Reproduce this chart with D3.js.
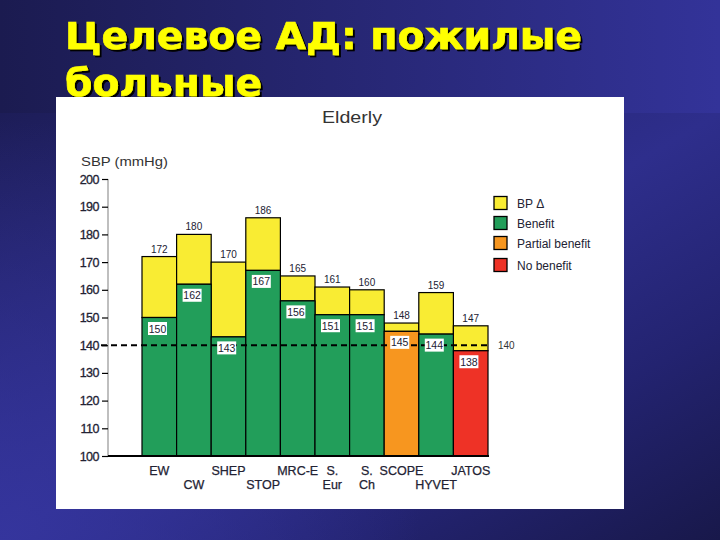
<!DOCTYPE html>
<html><head><meta charset="utf-8">
<script src="https://cdn.jsdelivr.net/npm/d3@7"></script>
<style>html,body{margin:0;padding:0;background:#222266;}svg{display:block;}</style>
</head><body>
<svg id="c" width="720" height="540"></svg>
<script>
// ---- data ----
const trials = ["EW","CW","SHEP","STOP","MRC-E","S. Eur","S. Ch","SCOPE","HYVET","JATOS"];
const labelLine1 = ["EW","","SHEP","","MRC-E","S.","S.","SCOPE","","JATOS"];
const labelLine2 = ["","CW","","STOP","","Eur","Ch","","HYVET",""];
const baselineSBP = [172,180,170,186,165,161,160,148,159,147];
const achievedSBP = [150,162,143,167,156,151,151,145,144,138];
const outcome = ["Benefit","Benefit","Benefit","Benefit","Benefit","Benefit","Benefit","Partial benefit","Benefit","No benefit"];
const yTicks = [100,110,120,130,140,150,160,170,180,190,200];
const legendItems = ["BP Δ","Benefit","Partial benefit","No benefit"];
const targetSBP = 140;

const colors = {"BP Δ":"#f9ec33","Benefit":"#229e5a","Partial benefit":"#f7961f","No benefit":"#ee3226"};

const svg = d3.select("#c");
const defs = svg.append("defs");
const g1 = defs.append("linearGradient").attr("id","topband").attr("x1",0).attr("y1",0).attr("x2",1).attr("y2",0);
g1.append("stop").attr("offset",0).attr("stop-color","#1b1b50");
g1.append("stop").attr("offset",1).attr("stop-color","#333399");
const g2 = defs.append("linearGradient").attr("id","lowband").attr("x1",0).attr("y1",0).attr("x2",1).attr("y2",1);
g2.append("stop").attr("offset",0).attr("stop-color","#1d1d58");
g2.append("stop").attr("offset",0.5).attr("stop-color","#2e2e8c");
g2.append("stop").attr("offset",0.75).attr("stop-color","#232370");
g2.append("stop").attr("offset",1).attr("stop-color","#18184a");
const g3 = defs.append("radialGradient").attr("id","lowleft").attr("gradientUnits","userSpaceOnUse")
  .attr("cx",0).attr("cy",540).attr("r",420);
g3.append("stop").attr("offset",0).attr("stop-color","#3636a0").attr("stop-opacity",0.85);
g3.append("stop").attr("offset",1).attr("stop-color","#3636a0").attr("stop-opacity",0);
const sh = defs.append("filter").attr("id","shadow").attr("x","-5%").attr("y","-20%").attr("width","110%").attr("height","140%");
sh.append("feDropShadow").attr("dx",2).attr("dy",2).attr("stdDeviation",0.4).attr("flood-color","#000").attr("flood-opacity",1);

svg.append("rect").attr("x",0).attr("y",113).attr("width",720).attr("height",427).attr("fill","url(#lowband)");
svg.append("rect").attr("x",0).attr("y",113).attr("width",720).attr("height",427).attr("fill","url(#lowleft)");
svg.append("rect").attr("x",0).attr("y",0).attr("width",720).attr("height",113).attr("fill","url(#topband)");

// title
const titleFont = "'DejaVu Sans', Verdana, sans-serif";
const tg = svg.append("g").attr("filter","url(#shadow)");
[["Целевое АД: пожилые",49,517],["больные",96,197]].forEach(([t,yy,w])=>{
  tg.append("text").attr("x",65).attr("y",yy).attr("textLength",w).attr("lengthAdjust","spacingAndGlyphs")
    .attr("font-family",titleFont).attr("font-weight","bold").attr("font-size",37).attr("fill","#ffff00")
    .attr("stroke","#ffff00").attr("stroke-width",0.6).text(t);
});

// panel
svg.append("rect").attr("x",56).attr("y",97).attr("width",568).attr("height",412).attr("fill","#fff");

const font = "'Liberation Sans', Arial, sans-serif";
const ink = "#222233";

svg.append("text").attr("x",352).attr("y",123).attr("text-anchor","middle").attr("font-family",font)
  .attr("font-size",17).attr("fill","#333").attr("textLength",60).attr("lengthAdjust","spacingAndGlyphs").text("Elderly");
svg.append("text").attr("x",81).attr("y",166).attr("font-family",font).attr("font-size",13).attr("fill","#333")
  .attr("textLength",87).attr("lengthAdjust","spacingAndGlyphs").text("SBP (mmHg)");

const x = d3.scaleBand().domain(trials).range([142,488]).padding(0);
const y = d3.scaleLinear().domain([100,200]).range([456,179]);

// y axis
svg.append("line").attr("x1",108).attr("x2",108).attr("y1",y(200)).attr("y2",y(100)).attr("stroke","#aaa").attr("stroke-width",1.5);
const ya = svg.append("g").attr("transform","translate(108,0)")
  .call(d3.axisLeft(y).tickValues(yTicks).tickSize(6).tickPadding(3));
ya.select(".domain").remove();
ya.selectAll(".tick line").attr("stroke","#000").attr("stroke-width",1.2);
ya.selectAll(".tick text").attr("font-family",font).attr("font-size",12.5).attr("fill",ink)
  .attr("letter-spacing","-0.5px").attr("stroke",ink).attr("stroke-width",0.3);

// bars
const idx = d3.range(trials.length);
const bars = svg.append("g");
bars.selectAll("rect.top").data(idx).join("rect")
  .attr("x",i=>x(trials[i])).attr("width",x.bandwidth())
  .attr("y",i=>y(baselineSBP[i])).attr("height",i=>y(achievedSBP[i])-y(baselineSBP[i]))
  .attr("fill",colors["BP Δ"]).attr("stroke","#000").attr("stroke-width",1.2);
bars.selectAll("rect.bot").data(idx).join("rect")
  .attr("x",i=>x(trials[i])).attr("width",x.bandwidth())
  .attr("y",i=>y(achievedSBP[i])).attr("height",i=>y(100)-y(achievedSBP[i]))
  .attr("fill",i=>colors[outcome[i]]).attr("stroke","#000").attr("stroke-width",1.2);

// bottom axis line
svg.append("line").attr("x1",108).attr("x2",489).attr("y1",y(100)).attr("y2",y(100)).attr("stroke","#000").attr("stroke-width",2);

// target dashed line
svg.append("line").attr("x1",101).attr("x2",490).attr("y1",y(targetSBP)).attr("y2",y(targetSBP))
  .attr("stroke","#000").attr("stroke-width",2).attr("stroke-dasharray","6,4");
svg.append("text").attr("x",498).attr("y",y(targetSBP)+4).attr("font-family",font).attr("font-size",10).attr("fill","#333").text(String(targetSBP));

// top labels
svg.append("g").selectAll("text").data(idx).join("text")
  .attr("x",i=>x(trials[i])+x.bandwidth()/2).attr("y",i=>y(baselineSBP[i])-4)
  .attr("text-anchor","middle").attr("font-family",font).attr("font-size",10).attr("fill",ink)
  .text(i=>baselineSBP[i]);

// achieved labels in white boxes
const lb = svg.append("g").selectAll("g").data(idx).join("g")
  .attr("transform",i=>`translate(${x(trials[i])+6},${y(achievedSBP[i])+4.5})`);
lb.append("rect").attr("width",19).attr("height",13).attr("fill","#fff");
lb.append("text").attr("x",9.5).attr("y",10.5).attr("text-anchor","middle").attr("font-family",font)
  .attr("font-size",10.5).attr("fill",ink).text(i=>achievedSBP[i]);

// category labels
const cl = svg.append("g").attr("font-family",font).attr("font-size",12.5).attr("fill",ink).attr("text-anchor","middle")
  .attr("stroke",ink).attr("stroke-width",0.25);
cl.selectAll("text.l1").data(idx).join("text").attr("x",i=>x(trials[i])+x.bandwidth()/2).attr("y",475).text(i=>labelLine1[i]);
cl.selectAll("text.l2").data(idx).join("text").attr("x",i=>x(trials[i])+x.bandwidth()/2).attr("y",489).text(i=>labelLine2[i]);

// legend
const legY = [203,223,243,265];
const lg = svg.append("g").selectAll("g").data(legendItems).join("g")
  .attr("transform",(d,i)=>`translate(494,${legY[i]})`);
lg.append("rect").attr("x",0).attr("y",-6.5).attr("width",13).attr("height",13).attr("fill",d=>colors[d]).attr("stroke","#000").attr("stroke-width",1.3);
lg.append("text").attr("x",23).attr("y",4.5).attr("font-family",font).attr("font-size",12).attr("fill",ink).text(d=>d);
</script>
</body></html>
